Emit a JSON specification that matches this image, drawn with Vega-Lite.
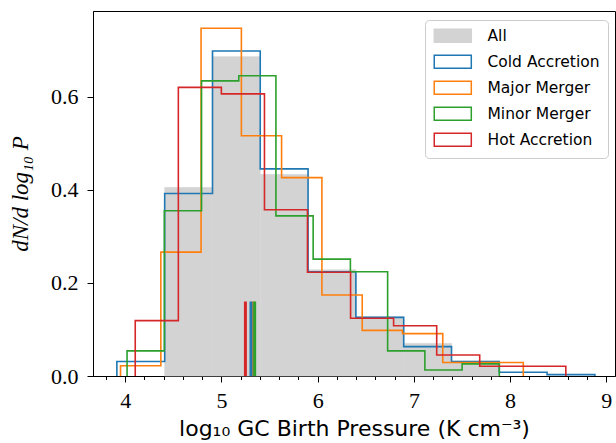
{
  "$schema": "https://vega.github.io/schema/vega-lite/v6.json",
  "width": 522,
  "height": 365,
  "autosize": {"type": "none"},
  "padding": {"left": 93, "top": 11, "right": 1, "bottom": 67},
  "background": "white",
  "config": {
    "view": {"stroke": "black", "strokeWidth": 1},
    "axis": {
      "grid": false,
      "domainColor": "black",
      "domainWidth": 1,
      "tickColor": "black",
      "tickWidth": 1,
      "labelFont": "Liberation Serif",
      "labelFontSize": 22,
      "labelColor": "black",
      "labelFlush": false,
      "titleColor": "black",
      "titleFontWeight": "normal"
    }
  },
  "resolve": {"axis": {"x": "independent"}},
  "datasets": {
    "steps": [
      {"s": "Cold Accretion", "i": 0, "x": 3.913, "y": 0},
      {"s": "Cold Accretion", "i": 1, "x": 3.913, "y": 0.031},
      {"s": "Cold Accretion", "i": 2, "x": 4.41, "y": 0.392},
      {"s": "Cold Accretion", "i": 3, "x": 4.907, "y": 0.698},
      {"s": "Cold Accretion", "i": 4, "x": 5.403, "y": 0.445},
      {"s": "Cold Accretion", "i": 5, "x": 5.9, "y": 0.224},
      {"s": "Cold Accretion", "i": 6, "x": 6.397, "y": 0.126},
      {"s": "Cold Accretion", "i": 7, "x": 6.894, "y": 0.063},
      {"s": "Cold Accretion", "i": 8, "x": 7.391, "y": 0.031},
      {"s": "Cold Accretion", "i": 9, "x": 7.887, "y": 0.008},
      {"s": "Cold Accretion", "i": 10, "x": 8.384, "y": 0.003},
      {"s": "Cold Accretion", "i": 11, "x": 8.881, "y": 0},
      {"s": "Major Merger", "i": 0, "x": 3.951, "y": 0},
      {"s": "Major Merger", "i": 1, "x": 3.951, "y": 0.022},
      {"s": "Major Merger", "i": 2, "x": 4.37, "y": 0.266},
      {"s": "Major Merger", "i": 3, "x": 4.788, "y": 0.747},
      {"s": "Major Merger", "i": 4, "x": 5.207, "y": 0.516},
      {"s": "Major Merger", "i": 5, "x": 5.625, "y": 0.426},
      {"s": "Major Merger", "i": 6, "x": 6.044, "y": 0.174},
      {"s": "Major Merger", "i": 7, "x": 6.463, "y": 0.098},
      {"s": "Major Merger", "i": 8, "x": 6.881, "y": 0.091},
      {"s": "Major Merger", "i": 9, "x": 7.3, "y": 0.029},
      {"s": "Major Merger", "i": 10, "x": 7.718, "y": 0.029},
      {"s": "Major Merger", "i": 11, "x": 8.137, "y": 0},
      {"s": "Minor Merger", "i": 0, "x": 4.019, "y": 0},
      {"s": "Minor Merger", "i": 1, "x": 4.019, "y": 0.054},
      {"s": "Minor Merger", "i": 2, "x": 4.406, "y": 0.355},
      {"s": "Minor Merger", "i": 3, "x": 4.793, "y": 0.634},
      {"s": "Minor Merger", "i": 4, "x": 5.18, "y": 0.645},
      {"s": "Minor Merger", "i": 5, "x": 5.566, "y": 0.344},
      {"s": "Minor Merger", "i": 6, "x": 5.953, "y": 0.251},
      {"s": "Minor Merger", "i": 7, "x": 6.34, "y": 0.224},
      {"s": "Minor Merger", "i": 8, "x": 6.727, "y": 0.054},
      {"s": "Minor Merger", "i": 9, "x": 7.114, "y": 0.013},
      {"s": "Minor Merger", "i": 10, "x": 7.501, "y": 0.026},
      {"s": "Minor Merger", "i": 11, "x": 7.888, "y": 0},
      {"s": "Hot Accretion", "i": 0, "x": 4.104, "y": 0},
      {"s": "Hot Accretion", "i": 1, "x": 4.104, "y": 0.119},
      {"s": "Hot Accretion", "i": 2, "x": 4.552, "y": 0.62},
      {"s": "Hot Accretion", "i": 3, "x": 4.999, "y": 0.606},
      {"s": "Hot Accretion", "i": 4, "x": 5.447, "y": 0.357},
      {"s": "Hot Accretion", "i": 5, "x": 5.894, "y": 0.223},
      {"s": "Hot Accretion", "i": 6, "x": 6.342, "y": 0.124},
      {"s": "Hot Accretion", "i": 7, "x": 6.789, "y": 0.108},
      {"s": "Hot Accretion", "i": 8, "x": 7.237, "y": 0.045},
      {"s": "Hot Accretion", "i": 9, "x": 7.684, "y": 0.021},
      {"s": "Hot Accretion", "i": 10, "x": 8.132, "y": 0.021},
      {"s": "Hot Accretion", "i": 11, "x": 8.579, "y": 0}
    ],
    "all": [
      {"lo": 4.41, "hi": 4.907, "v": 0.405},
      {"lo": 4.907, "hi": 5.403, "v": 0.686},
      {"lo": 5.403, "hi": 5.9, "v": 0.433},
      {"lo": 5.9, "hi": 6.397, "v": 0.228},
      {"lo": 6.397, "hi": 6.894, "v": 0.127},
      {"lo": 6.894, "hi": 7.391, "v": 0.07},
      {"lo": 7.391, "hi": 7.887, "v": 0.032}
    ],
    "med": [
      {"s": "Major Merger", "m": 5.333},
      {"s": "Cold Accretion", "m": 5.307},
      {"s": "Minor Merger", "m": 5.345},
      {"s": "Hot Accretion", "m": 5.249}
    ]
  },
  "layer": [
    {
      "data": {"name": "all"},
      "mark": {"type": "rect", "fill": "#d3d3d3", "stroke": "#d3d3d3", "strokeWidth": 0.6},
      "encoding": {
        "x": {
          "field": "lo", "type": "quantitative",
          "scale": {"domain": [3.665, 9.09], "nice": false, "zero": false},
          "axis": {
            "orient": "bottom",
            "values": [4, 5, 6, 7, 8, 9],
            "format": "d",
            "tickSize": 6,
            "labelOverlap": false,
            "labelPadding": 8,
            "title": "log₁₀ GC Birth Pressure (K cm⁻³)",
            "titleFont": "DejaVu Sans",
            "titleFontSize": 22,
            "titlePadding": 7
          }
        },
        "x2": {"field": "hi"},
        "y": {
          "field": "v", "type": "quantitative",
          "scale": {"domain": [0, 0.784], "nice": false},
          "axis": {
            "values": [0, 0.2, 0.4, 0.6],
            "format": ".1f",
            "tickSize": 6,
            "labelPadding": 9,
            "labelOverlap": false,
            "title": "dN/d log₁₀ P",
            "titleFont": "Liberation Serif",
            "titleFontStyle": "italic",
            "titleFontSize": 23,
            "titlePadding": 18
          }
        },
        "y2": {"datum": 0}
      }
    },
    {
      "data": {"name": "steps"},
      "mark": {"type": "line", "interpolate": "step-after", "strokeWidth": 1.6},
      "encoding": {
        "x": {
          "field": "x", "type": "quantitative",
          "axis": {
            "orient": "bottom",
            "values": [3.8, 4.2, 4.4, 4.6, 4.8, 5.2, 5.4, 5.6, 5.8, 6.2, 6.4, 6.6, 6.8, 7.2, 7.4, 7.6, 7.8, 8.2, 8.4, 8.6, 8.8],
            "tickSize": 3.5,
            "labels": false,
            "domain": false,
            "title": null
          }
        },
        "y": {"field": "y", "type": "quantitative"},
        "order": {"field": "i", "type": "quantitative"},
        "stroke": {
          "field": "s", "type": "nominal",
          "scale": {
            "domain": ["All", "Cold Accretion", "Major Merger", "Minor Merger", "Hot Accretion"],
            "range": ["#d3d3d3", "#1f77b4", "#ff7f0e", "#2ca02c", "#d62728"]
          },
          "legend": {
            "title": null,
            "orient": "none",
            "legendX": 332,
            "legendY": 9,
            "symbolType": "M-1,-1H4.7V1H-1Z",
            "symbolSize": 169,
            "symbolStrokeWidth": 1.5,
            "symbolOpacity": 1,
            "labelFont": "DejaVu Sans",
            "labelFontSize": 15.5,
            "labelColor": "black",
            "labelOffset": 39,
            "rowPadding": 6,
            "padding": 8,
            "strokeColor": "#cccccc",
            "fillColor": "white",
            "cornerRadius": 4,
            "encode": {
              "symbols": {
                "update": {
                  "fill": {"signal": "datum.value === 'All' ? '#d3d3d3' : 'white'"},
                  "fillOpacity": {"value": 1}
                }
              }
            }
          }
        }
      }
    },
    {
      "data": {"name": "med"},
      "mark": {"type": "rule", "strokeWidth": 3},
      "encoding": {
        "x": {"field": "m", "type": "quantitative", "axis": null},
        "y": {"datum": 0},
        "y2": {"datum": 0.16},
        "stroke": {"field": "s", "type": "nominal"}
      }
    }
  ]
}
